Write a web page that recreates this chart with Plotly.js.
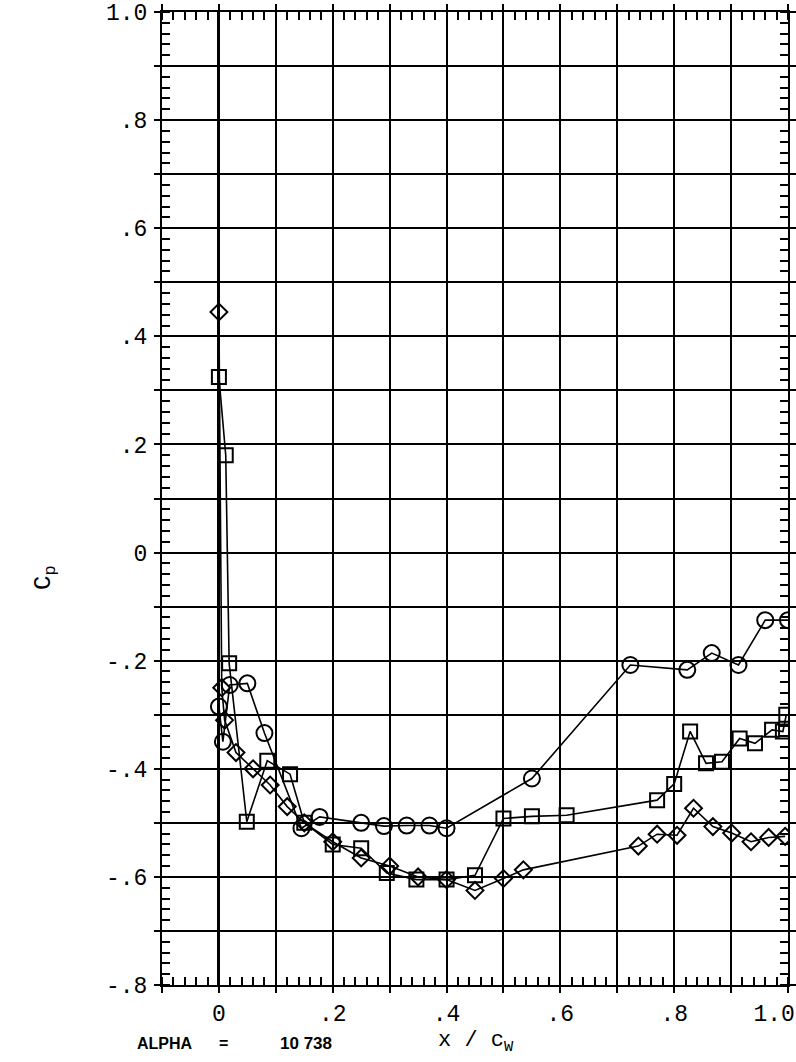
<!DOCTYPE html>
<html>
<head>
<meta charset="utf-8">
<script src="https://cdn.plot.ly/plotly-3.0.1.min.js"></script>
<style>html,body{margin:0;padding:0;background:#fff;}#chart{width:796px;height:1062px;}</style>
</head>
<body>
<div id="chart"></div>
<script>
// Circle series
const circX = [0.0, 0.007, 0.019, 0.05, 0.08, 0.145, 0.177, 0.25, 0.29, 0.33, 0.37, 0.40, 0.55, 0.723, 0.823, 0.866, 0.913, 0.96, 1.0];
const circY = [-0.285, -0.35, -0.245, -0.242, -0.334, -0.51, -0.489, -0.50, -0.506, -0.505, -0.505, -0.51, -0.418, -0.208, -0.217, -0.186, -0.208, -0.125, -0.125];
// Square series
const sqX = [0.0, 0.012, 0.018, 0.049, 0.085, 0.125, 0.15, 0.20, 0.25, 0.295, 0.347, 0.40, 0.45, 0.50, 0.55, 0.611, 0.77, 0.80, 0.828, 0.856, 0.884, 0.915, 0.942, 0.972, 0.991, 0.997];
const sqY = [0.325, 0.18, -0.205, -0.498, -0.385, -0.41, -0.50, -0.54, -0.547, -0.593, -0.605, -0.605, -0.597, -0.492, -0.488, -0.486, -0.458, -0.428, -0.331, -0.39, -0.387, -0.344, -0.353, -0.328, -0.331, -0.30];
// Diamond series
const diaX = [0.0, 0.005, 0.01, 0.03, 0.06, 0.09, 0.12, 0.15, 0.20, 0.25, 0.30, 0.35, 0.40, 0.45, 0.50, 0.535, 0.737, 0.77, 0.805, 0.834, 0.868, 0.901, 0.935, 0.966, 0.995];
const diaY = [0.445, -0.25, -0.31, -0.37, -0.40, -0.43, -0.47, -0.50, -0.535, -0.565, -0.58, -0.60, -0.605, -0.625, -0.603, -0.587, -0.543, -0.521, -0.523, -0.473, -0.507, -0.519, -0.535, -0.527, -0.525];

const xTickVals = [-0.1, 0, 0.1, 0.2, 0.3, 0.4, 0.5, 0.6, 0.7, 0.8, 0.9, 1.0];
const xTickText = ['', '0', '', '.2', '', '.4', '', '.6', '', '.8', '', '1.0\u00A0\u00A0'];
const yTickVals = [-0.8, -0.7, -0.6, -0.5, -0.4, -0.3, -0.2, -0.1, 0, 0.1, 0.2, 0.3, 0.4, 0.5, 0.6, 0.7, 0.8, 0.9, 1.0];
const yTickText = ['-.8', '', '-.6', '', '-.4', '', '-.2', '', '0', '', '.2', '', '.4', '', '.6', '', '.8', '', '1.0'];

const L = 162, R = 788, T = 12, B = 985, W = 796, H = 1062;
const px = v => (v - L) / (R - L);
const py = v => (B - v) / (B - T);

const lineStyle = {color: '#000', width: 1.6};
const traces = [
  {x: circX, y: circY, mode: 'lines+markers', line: lineStyle,
   marker: {symbol: 'circle-open', size: 16, color: '#000', line: {width: 2, color: '#000'}}},
  {x: sqX, y: sqY, mode: 'lines+markers', line: lineStyle,
   marker: {symbol: 'square-open', size: 14, color: '#000', line: {width: 2, color: '#000'}}},
  {x: diaX, y: diaY, mode: 'lines+markers', line: lineStyle,
   marker: {symbol: 'diamond-open', size: 13, color: '#000', line: {width: 2, color: '#000'}}}
];

const tickFont = {family: 'Liberation Mono, DejaVu Sans Mono, monospace', size: 23, color: '#000'};
const boldFont = {family: 'Liberation Sans Narrow, Liberation Sans, sans-serif', size: 16, color: '#000'};
const layout = {
  width: W, height: H,
  margin: {l: L, r: W - R, t: T, b: H - B, pad: 0},
  paper_bgcolor: '#fff', plot_bgcolor: '#fff',
  showlegend: false,
  xaxis: {
    range: [-0.1, 1.0], tickmode: 'array', tickvals: xTickVals, ticktext: xTickText,
    showgrid: true, gridcolor: '#000', gridwidth: 2,
    zeroline: true, zerolinecolor: '#000', zerolinewidth: 3,
    showline: true, linecolor: '#000', linewidth: 2, mirror: 'ticks',
    ticks: 'outside', ticklen: 6, tickwidth: 2, tickcolor: '#000',
    minor: {tickmode: 'linear', tick0: 0, dtick: 0.02, ticks: 'inside', ticklen: 8, tickwidth: 2, tickcolor: '#000', showgrid: false},
    tickfont: tickFont, ticklabelstandoff: 0, ticklabeloverflow: 'allow'
  },
  yaxis: {
    range: [-0.8, 1.0], tickmode: 'array', tickvals: yTickVals, ticktext: yTickText,
    showgrid: true, gridcolor: '#000', gridwidth: 2,
    zeroline: true, zerolinecolor: '#000', zerolinewidth: 2,
    showline: true, linecolor: '#000', linewidth: 2, mirror: 'ticks',
    ticks: 'outside', ticklen: 6, tickwidth: 2, tickcolor: '#000',
    minor: {tickmode: 'linear', tick0: 0, dtick: 0.02, ticks: 'inside', ticklen: 8, tickwidth: 2, tickcolor: '#000', showgrid: false},
    tickfont: tickFont, ticklabelstandoff: 2, ticklabeloverflow: 'allow'
  },
  annotations: [
    {xref: 'paper', yref: 'paper', x: px(45), y: py(578), xanchor: 'center', yanchor: 'middle',
     text: 'C<sub>p</sub>', showarrow: false, textangle: -90,
     font: {family: 'Liberation Mono, monospace', size: 24, color: '#000'}},
    {xref: 'paper', yref: 'paper', x: px(476), y: py(1042), xanchor: 'center', yanchor: 'middle',
     text: 'x / c<sub>W</sub>', showarrow: false,
     font: {family: 'Liberation Mono, monospace', size: 22, color: '#000'}},
    {xref: 'paper', yref: 'paper', x: px(165), y: py(1043), xanchor: 'center', yanchor: 'middle',
     text: '<b>ALPHA</b>', showarrow: false, font: boldFont},
    {xref: 'paper', yref: 'paper', x: px(223), y: py(1043), xanchor: 'center', yanchor: 'middle',
     text: '<b>=</b>', showarrow: false, font: boldFont},
    {xref: 'paper', yref: 'paper', x: px(306), y: py(1043), xanchor: 'center', yanchor: 'middle',
     text: '<b>10 738</b>', showarrow: false, font: {family: boldFont.family, size: 17, color: '#000'}}
  ]
};

Plotly.newPlot('chart', traces, layout, {staticPlot: true, displayModeBar: false});
</script>
</body>
</html>
